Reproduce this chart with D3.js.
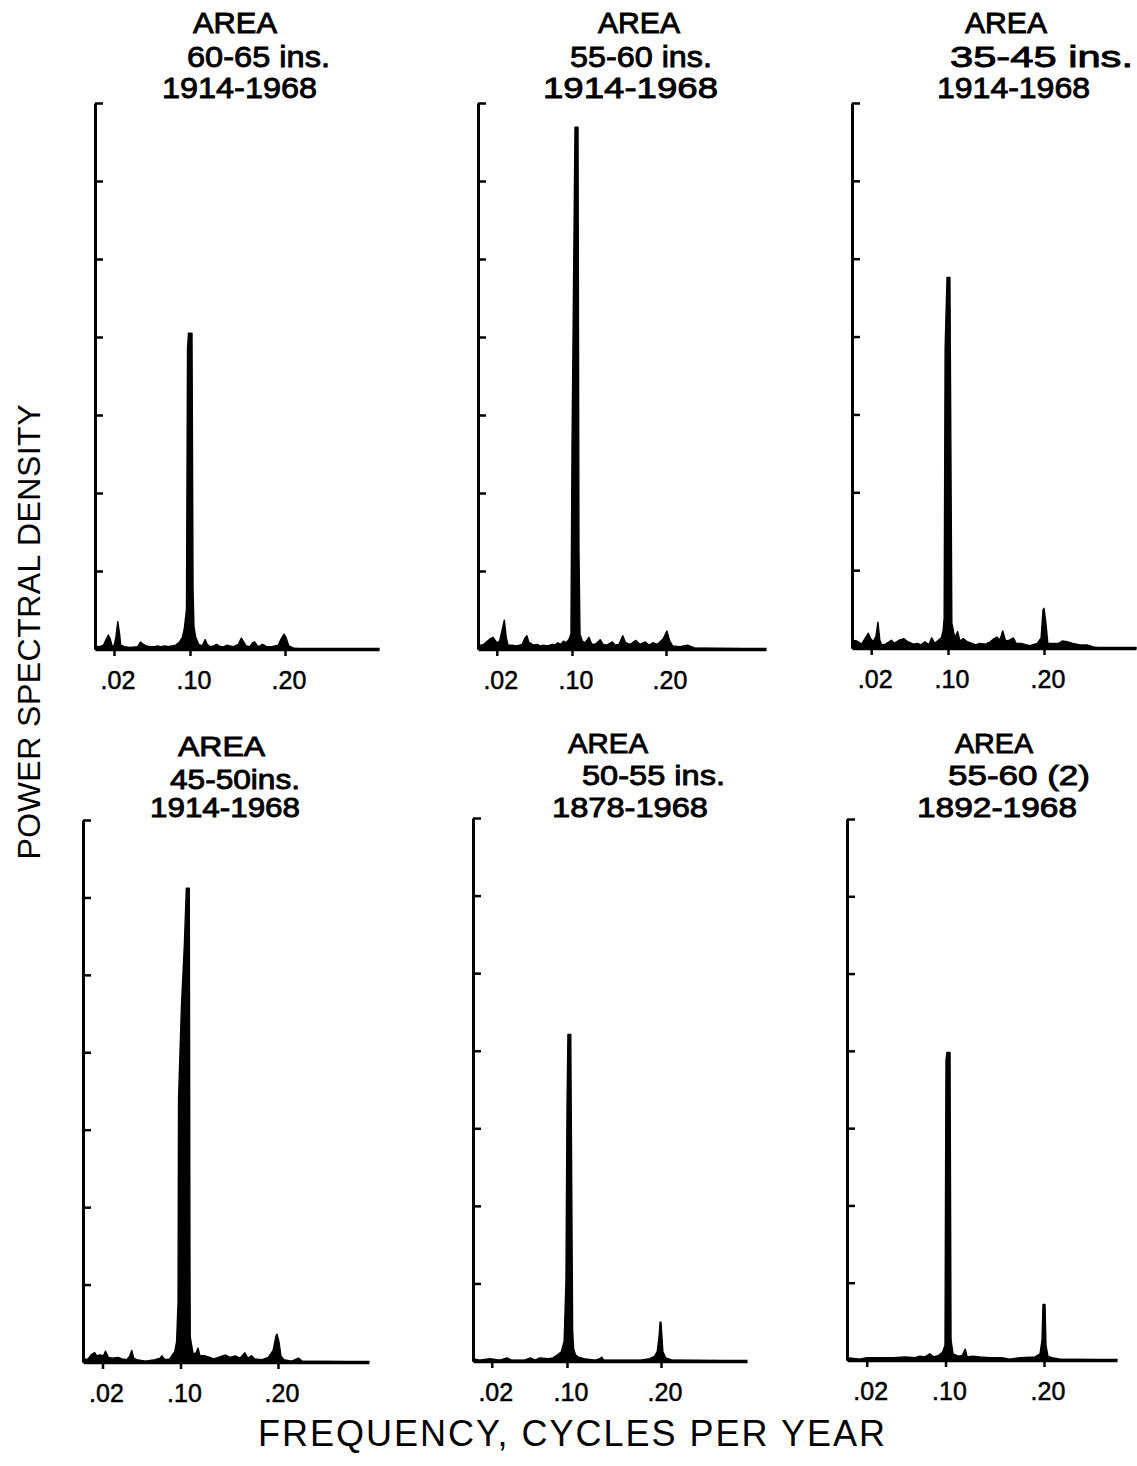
<!DOCTYPE html>
<html><head><meta charset="utf-8">
<script src="https://cdn.jsdelivr.net/npm/d3@7"></script>
<style>body{margin:0;background:#fff}svg{display:block}</style>
</head><body><svg id="c" width="1137" height="1466"></svg>
<script>
// ---------- DATA ----------
const panelTitles = [
  ["AREA", "60-65 ins.", "1914-1968"],
  ["AREA", "55-60 ins.", "1914-1968"],
  ["AREA", "35-45 ins.", "1914-1968"],
  ["AREA", "45-50ins.", "1914-1968"],
  ["AREA", "50-55 ins.", "1878-1968"],
  ["AREA", "55-60 (2)", "1892-1968"]
];
const xTickValues = [0.02, 0.10, 0.20];
const xTickLabels = [".02", ".10", ".20"];
const yTickValues = [1, 2, 3, 4, 5, 6, 7];
const yAxisTitle = "POWER  SPECTRAL  DENSITY";
const xAxisTitle = "FREQUENCY, CYCLES PER YEAR";

// frequency (cycles/yr) and power spectral density (tick units) per panel
const freq1 = [0,.005,.009,.012,.014,.016,.018,.020,.022,.024,.026,.027,.031,.037,.045,.048,.051,.054,.058,.063,.066,.069,.074,.077,.081,.085,.089,.092,.094,.0963,.0974,.0984,.1021,.1032,.1042,.106,.109,.113,.116,.118,.121,.125,.128,.132,.136,.139,.142,.146,.151,.154,.156,.159,.163,.166,.168,.171,.173,.176,.178,.180,.186,.193,.196,.199,.201,.204,.209,.216,.299];
const psd1  = [.04,.03,.05,.13,.18,.13,.04,.04,.15,.35,.18,.05,.03,.02,.03,.09,.06,.04,.03,.03,.04,.03,.04,.03,.04,.05,.09,.15,.26,.51,3.85,4.05,4.05,.77,.28,.15,.06,.04,.12,.06,.03,.04,.06,.03,.03,.05,.04,.03,.06,.14,.10,.04,.03,.08,.09,.04,.03,.06,.05,.03,.03,.05,.13,.19,.15,.04,.01,0,0];

const freq2 = [0,.006,.013,.016,.020,.023,.026,.028,.030,.032,.036,.041,.047,.050,.052,.054,.059,.063,.066,.070,.074,.079,.082,.085,.088,.091,.094,.097,.0989,.1000,.1032,.1064,.1074,.1085,.111,.114,.118,.121,.125,.130,.133,.137,.143,.146,.150,.154,.157,.162,.168,.172,.178,.182,.186,.191,.197,.201,.204,.207,.215,.223,.231,.241,.306];
const psd2  = [.04,.06,.13,.15,.08,.10,.26,.37,.15,.05,.05,.04,.06,.14,.17,.09,.05,.06,.04,.05,.04,.06,.05,.08,.06,.10,.08,.13,.19,2.56,6.69,6.69,1.28,.19,.10,.08,.15,.06,.06,.12,.06,.05,.09,.05,.06,.17,.08,.06,.11,.06,.09,.05,.08,.06,.13,.23,.10,.04,.03,.05,.01,.01,0];

const freq3 = [0,.005,.010,.014,.017,.019,.022,.025,.027,.029,.031,.035,.041,.044,.049,.054,.058,.064,.068,.072,.076,.080,.083,.086,.090,.093,.095,.096,.097,.099,.102,.103,.104,.107,.110,.1125,.116,.120,.125,.129,.133,.139,.144,.148,.151,.154,.157,.160,.164,.168,.171,.176,.185,.193,.197,.199,.200,.202,.204,.209,.215,.219,.224,.230,.2375,.245,.252,.258,.296];
const psd3  = [.10,.09,.05,.13,.19,.13,.08,.15,.33,.10,.04,.05,.10,.06,.10,.12,.08,.05,.06,.04,.08,.04,.13,.06,.10,.13,.23,.38,3.85,4.76,4.76,2.56,.32,.13,.21,.09,.12,.08,.06,.04,.06,.05,.08,.12,.14,.10,.22,.09,.10,.13,.06,.06,.03,.06,.13,.49,.51,.32,.06,.06,.06,.09,.08,.06,.04,.04,.01,0,0];

const freq4 = [0,.005,.009,.012,.014,.017,.021,.023,.026,.030,.036,.040,.045,.048,.050,.052,.055,.064,.074,.079,.081,.084,.089,.092,.094,.096,.0975,.098,.101,.104,.106,.109,.1097,.110,.113,.116,.118,.120,.125,.130,.134,.139,.146,.151,.156,.161,.166,.169,.173,.176,.184,.190,.195,.198,.199,.201,.203,.206,.214,.221,.225,.293];
const psd4  = [.03,.04,.10,.12,.08,.09,.08,.14,.06,.05,.06,.04,.03,.08,.15,.05,.03,.01,.03,.05,.08,.03,.04,.10,.13,.26,.77,3.4,4.6,5.4,6.12,6.12,1.29,.32,.10,.12,.18,.08,.08,.06,.04,.06,.09,.06,.08,.05,.12,.05,.08,.04,.03,.06,.15,.34,.36,.26,.08,.03,.01,.05,.01,0];

const freq5 = [0,.007,.018,.029,.036,.041,.055,.061,.066,.071,.080,.085,.090,.094,.097,.0989,.100,.101,.104,.106,.107,.109,.112,.118,.130,.135,.137,.139,.156,.178,.188,.193,.196,.198,.199,.200,.202,.205,.212,.220,.291];
const psd5  = [.03,.01,.03,.01,.04,.01,.01,.04,.01,.04,.03,.04,.08,.12,.26,1.03,3.23,4.21,4.21,.39,.16,.08,.05,.03,.01,.03,.05,.01,.01,.01,.03,.06,.12,.32,.50,.50,.12,.04,.01,.01,0];

const freq6 = [0,.013,.020,.034,.047,.059,.069,.074,.079,.084,.088,.093,.097,.0995,.1005,.1015,.1046,.1056,.1076,.113,.117,.120,.122,.128,.135,.145,.157,.165,.176,.191,.196,.198,.199,.201,.202,.204,.208,.216,.274];
const psd6  = [.03,.01,.03,.03,.03,.04,.03,.05,.04,.08,.04,.06,.10,.19,3.88,3.98,3.98,.26,.08,.05,.06,.14,.04,.05,.04,.03,.03,.01,.03,.04,.08,.26,.72,.72,.19,.05,.03,.01,0];

const freqs = [freq1, freq2, freq3, freq4, freq5, freq6];
const psds = [psd1, psd2, psd3, psd4, psd5, psd6];

// ---------- LAYOUT ----------
const layout = [
  {left:95,  top:103, base:649,  ppu:950, end:379,  fs:30, title:[[193,277,33],[187,330,67],[162,317,98]]},
  {left:478, top:103, base:649,  ppu:940, end:766,  fs:30, title:[[598,680,33],[570,712,67],[543,718,98]]},
  {left:852, top:103, base:648,  ppu:960, end:1136, fs:30, title:[[965,1047,33],[950,1133,67],[937,1090,98]]},
  {left:83,  top:820, base:1362, ppu:975, end:369,  fs:28, title:[[178,265,756],[170,300,789],[150,300,817]]},
  {left:473, top:818, base:1361, ppu:940, end:747,  fs:28, title:[[568,648,753],[582,725,785],[552,708,817]]},
  {left:847, top:819, base:1360, ppu:985, end:1117, fs:28, title:[[955,1033,753],[948,1090,785],[917,1077,817]]}
];

const svg = d3.select("#c");
svg.append("rect").attr("width",1137).attr("height",1466).attr("fill","#fff");
const FONT = "'Liberation Sans', Arial, sans-serif";

layout.forEach((L, i) => {
  const x = d3.scaleLinear().domain([0, (L.end - L.left) / L.ppu]).range([L.left, L.end]);
  const y = d3.scaleLinear().domain([0, 7]).range([L.base, L.top]);
  const g = svg.append("g");

  // spectrum
  const pts = freqs[i].map((f, k) => ({f, p: psds[i][k]}));
  const area = d3.area().x(d => x(d.f)).y0(y(0)).y1(d => y(d.p));
  g.append("path").datum(pts).attr("d", area)
    .attr("fill", "#000").attr("stroke", "#000").attr("stroke-width", 1.4).attr("stroke-linejoin", "round");

  // y axis
  const ya = g.append("g").attr("transform", `translate(${L.left},0)`)
    .call(d3.axisRight(y).tickValues(yTickValues).tickSizeInner(8).tickSizeOuter(0).tickFormat(""));
  ya.select(".domain").attr("stroke-width", 3);
  ya.selectAll(".tick line").attr("stroke-width", 2.5);

  // x axis
  const xa = g.append("g").attr("transform", `translate(0,${L.base})`)
    .call(d3.axisBottom(x).tickValues(xTickValues).tickSizeInner(7).tickSizeOuter(0).tickFormat(""));
  xa.select(".domain").attr("stroke-width", 3.5);
  xa.selectAll(".tick line").attr("stroke-width", 2.5);

  // x tick labels
  g.selectAll("text.xl").data(xTickValues).enter().append("text")
    .attr("x", (d) => x(d) + 4)
    .attr("y", L.base + 40)
    .attr("text-anchor", "middle")
    .attr("font-family", FONT).attr("font-size", 25)
    .attr("stroke", "#000").attr("stroke-width", 0.5)
    .text((d, k) => xTickLabels[k]);

  // titles
  panelTitles[i].forEach((t, k) => {
    const [x0, x1, yb] = L.title[k];
    g.append("text").attr("x", x0).attr("y", yb)
      .attr("font-family", FONT).attr("font-size", L.fs)
      .attr("stroke", "#000").attr("stroke-width", 0.9)
      .attr("textLength", x1 - x0).attr("lengthAdjust", "spacingAndGlyphs")
      .text(t);
  });
});

// axis titles
svg.append("text")
  .attr("transform", "translate(40,632) rotate(-90)")
  .attr("text-anchor", "middle")
  .attr("font-family", FONT).attr("font-size", 32)
  .attr("textLength", 455).attr("lengthAdjust", "spacing")
  .text(yAxisTitle);

svg.append("text")
  .attr("x", 258).attr("y", 1446)
  .attr("font-family", FONT).attr("font-size", 36)
  .attr("textLength", 627).attr("lengthAdjust", "spacing")
  .text(xAxisTitle);
</script>
</body></html>
